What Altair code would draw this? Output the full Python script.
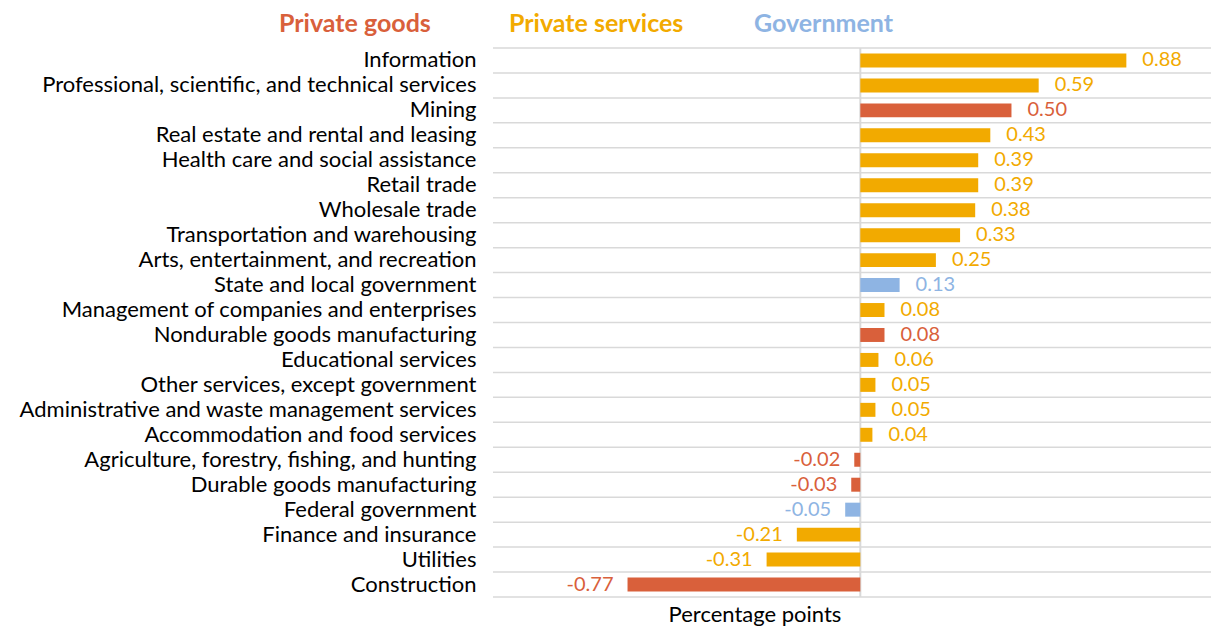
import altair as alt
import pandas as pd

categories = [
    "Information",
    "Professional, scientific, and technical services",
    "Mining",
    "Real estate and rental and leasing",
    "Health care and social assistance",
    "Retail trade",
    "Wholesale trade",
    "Transportation and warehousing",
    "Arts, entertainment, and recreation",
    "State and local government",
    "Management of companies and enterprises",
    "Nondurable goods manufacturing",
    "Educational services",
    "Other services, except government",
    "Administrative and waste management services",
    "Accommodation and food services",
    "Agriculture, forestry, fishing, and hunting",
    "Durable goods manufacturing",
    "Federal government",
    "Finance and insurance",
    "Utilities",
    "Construction",
]
values = [0.88, 0.59, 0.50, 0.43, 0.39, 0.39, 0.38, 0.33, 0.25, 0.13, 0.08, 0.08,
          0.06, 0.05, 0.05, 0.04, -0.02, -0.03, -0.05, -0.21, -0.31, -0.77]
groups = ["S", "S", "G", "S", "S", "S", "S", "S", "S", "V", "S", "G",
          "S", "S", "S", "S", "G", "G", "V", "S", "S", "G"]
group_names = {"G": "Private goods", "S": "Private services", "V": "Government"}
legend_labels = ["Private goods", "Private services", "Government"]
legend_colors = ["#D9603B", "#F2AA00", "#8EB4E3"]

df = pd.DataFrame({
    "category": categories,
    "value": values,
    "group": [group_names[g] for g in groups],
    "label": [f"{v:.2f}" for v in values],
})

W, H = 718, 549
PI = 0.44
STEP = H / len(categories)
FONT = "Lato"

color = alt.Color("group:N", scale=alt.Scale(domain=legend_labels, range=legend_colors), legend=None)
xs = alt.Scale(domain=[-1.215, 1.16], nice=False, zero=False)
ysc = alt.Scale(domain=categories, paddingInner=PI, paddingOuter=PI / 2)

base = alt.Chart(df)

yaxis = alt.Axis(title=None, ticks=False, domain=False, grid=False,
                 labelFontSize=22, labelFont=FONT, labelColor="#000000",
                 labelPadding=17, labelLimit=600)

grid = base.mark_rule(color="#D9D9D9", strokeWidth=1.5, yOffset=-(PI / 2) * STEP).encode(
    y=alt.Y("category:N", sort=categories, scale=ysc, bandPosition=0, axis=yaxis),
    x=alt.value(0), x2=alt.value(W),
)
bottom_line = alt.Chart(pd.DataFrame({"a": [1]})).mark_rule(color="#D9D9D9", strokeWidth=1.5).encode(
    y=alt.value(H), x=alt.value(0), x2=alt.value(W)
)
zero_line = alt.Chart(pd.DataFrame({"z": [0.0]})).mark_rule(color="#D9D9D9", strokeWidth=2).encode(
    x=alt.X("z:Q", scale=xs, axis=None), y=alt.value(0), y2=alt.value(H)
)

bars = base.mark_bar().encode(
    y=alt.Y("category:N", sort=categories, scale=ysc),
    x=alt.X("value:Q", scale=xs, axis=None),
    x2=alt.datum(0),
    color=color,
)

pos_text = base.transform_filter("datum.value >= 0").mark_text(
    align="left", baseline="middle", dx=16, fontSize=20, font=FONT
).encode(
    y=alt.Y("category:N", sort=categories, scale=ysc),
    x=alt.X("value:Q", scale=xs),
    text="label:N", color=color,
)
neg_text = base.transform_filter("datum.value < 0").mark_text(
    align="right", baseline="middle", dx=-14, fontSize=20, font=FONT
).encode(
    y=alt.Y("category:N", sort=categories, scale=ysc),
    x=alt.X("value:Q", scale=xs),
    text="label:N", color=color,
)

legend_layers = []
for name, xp, col in zip(legend_labels, [-214, 16, 261], legend_colors):
    legend_layers.append(
        alt.Chart(pd.DataFrame({"name": [name]})).mark_text(
            align="left", baseline="alphabetic", fontSize=25, font=FONT, fontWeight="bold", color=col
        ).encode(text="name:N", x=alt.value(xp), y=alt.value(-16))
    )

axis_title = alt.Chart(pd.DataFrame({"t": ["Percentage points"]})).mark_text(
    align="center", baseline="alphabetic", fontSize=22, font=FONT, color="#000000"
).encode(text="t:N", x=alt.value(262), y=alt.value(574))

chart = alt.layer(grid, bottom_line, zero_line, bars, pos_text, neg_text, axis_title, *legend_layers).properties(
    width=W, height=H,
    autosize=alt.AutoSizeParams(type="none"),
    padding={"left": 485, "top": 40, "right": 0, "bottom": 30},
).configure_view(stroke=None)

chart.save("out.html", embed_options={"renderer": "svg", "actions": False})
